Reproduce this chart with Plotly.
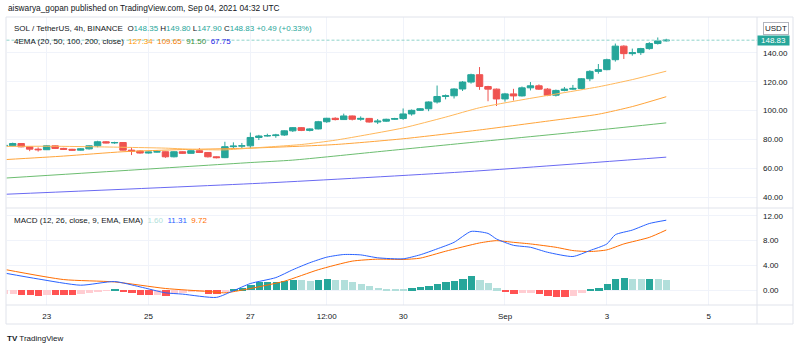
import plotly.graph_objects as go
import pandas as pd

W, H = 800, 348

# ---------------- data ----------------
start = pd.Timestamp("2021-08-22 04:00")   # first (partly hidden) 4h candle

opens = [75.4, 75.7, 77.2, 74.9, 73.3, 72.9, 75.6, 73.8, 73.2, 72.6,
         73.5, 75.6, 78.4, 77.6, 77.9, 72.6, 72.0, 70.6, 71.3, 71.5,
         68.0, 71.5, 70.4, 72.2, 71.0, 68.0, 67.4, 75.0, 75.4, 75.6,
         81.4, 82.4, 82.7, 83.1, 86.0, 88.2, 86.3, 87.3, 92.3, 94.7,
         93.8, 96.3, 94.0, 94.6, 92.1, 92.7, 94.0, 94.5, 97.7, 100.2,
         101.3, 106.0, 109.8, 110.3, 115.0, 119.8, 124.9, 116.7, 114.9, 108.1,
         111.6, 110.2, 115.8, 117.2, 114.9, 110.7, 114.0, 114.9, 115.4, 122.1,
         127.2, 128.4, 135.3, 144.7, 139.5, 140.2, 143.0, 146.5, 148.35]
highs = [76.2, 77.8, 77.5, 75.1, 74.5, 75.9, 75.9, 74.2, 73.5, 73.9,
         76.0, 79.1, 78.9, 78.4, 78.1, 74.5, 72.4, 71.6, 72.6, 71.7,
         71.8, 71.8, 72.4, 74.0, 71.3, 68.3, 78.4, 78.0, 77.6, 84.8,
         83.2, 84.0, 83.9, 86.4, 88.6, 88.6, 87.7, 92.9, 95.0, 95.4,
         97.9, 96.6, 96.0, 94.9, 94.2, 94.4, 95.0, 101.5, 100.8, 101.8,
         106.4, 117.4, 111.2, 115.5, 120.5, 125.6, 130.2, 117.2, 115.3, 112.3,
         115.1, 116.7, 119.8, 118.2, 115.6, 114.6, 116.4, 117.8, 122.6, 128.0,
         132.3, 136.0, 146.5, 145.3, 143.0, 143.5, 147.5, 150.7, 149.80]
lows = [75.2, 75.3, 74.6, 71.9, 71.6, 72.7, 73.5, 72.8, 72.3, 72.4,
        73.0, 74.6, 77.3, 77.0, 72.4, 69.2, 70.2, 70.3, 71.0, 67.3,
        67.6, 70.1, 70.2, 70.6, 67.5, 66.9, 67.1, 73.6, 73.8, 73.9,
        79.6, 82.0, 81.2, 82.5, 85.2, 85.8, 85.6, 87.0, 91.5, 93.2,
        93.5, 93.2, 93.0, 91.7, 90.7, 92.2, 93.6, 93.6, 96.5, 99.8,
        99.6, 104.9, 107.8, 108.4, 113.6, 118.7, 114.4, 106.5, 103.2, 106.2,
        107.0, 109.8, 114.0, 114.3, 110.0, 109.8, 113.4, 114.4, 114.8, 120.4,
        125.6, 128.0, 134.0, 135.8, 138.1, 138.6, 142.2, 145.8, 147.90]
closes = [75.9, 77.2, 74.9, 73.3, 72.9, 75.6, 73.8, 73.2, 72.6, 73.5,
          75.6, 78.4, 77.6, 77.9, 72.6, 72.0, 70.6, 71.3, 71.5, 68.0,
          71.5, 70.4, 72.2, 71.0, 68.0, 67.4, 75.0, 75.4, 75.6, 81.4,
          82.4, 82.7, 83.1, 86.0, 88.2, 86.3, 87.3, 92.3, 94.7, 93.8,
          96.3, 94.0, 94.6, 92.1, 92.7, 94.0, 94.5, 97.7, 100.2, 101.3,
          106.0, 109.8, 110.3, 115.0, 119.8, 124.9, 116.7, 114.9, 108.1, 111.6,
          110.2, 115.8, 117.2, 114.9, 110.7, 114.0, 114.9, 115.4, 122.1, 127.2,
          128.4, 135.3, 144.7, 139.5, 140.2, 143.0, 146.5, 148.35, 148.83]

# EMA lines: (candle number, value)
ema20_idx = [1, 7, 15, 20, 24, 27, 30, 36, 40, 43, 48, 53, 57, 62, 66, 71, 75, 79]
ema20_val = [75.2, 75.3, 74.6, 74.0, 73.0, 72.8, 74.0, 76.5, 79.5, 82.5, 88.0, 95.5,
             102.0, 107.5, 111.5, 116.5, 121.5, 127.34]
ema50_idx = [1, 8, 15, 22, 30, 40, 48, 57, 66, 71, 75, 79]
ema50_val = [66.0, 68.5, 71.5, 73.0, 74.0, 76.5, 80.5, 86.6, 93.5, 97.5, 102.8, 109.65]
ema100_idx = [1, 15, 30, 35, 45, 57, 71, 79]
ema100_val = [53.2, 58.4, 64.0, 65.7, 71.5, 78.5, 86.6, 91.50]
ema200_idx = [1, 32, 55, 79]
ema200_val = [42.0, 49.9, 57.5, 67.75]

# MACD histogram, one bar per candle
hist = [-0.62, -0.60, -0.72, -0.78, -0.95, -0.75, -0.78, -0.80, -0.82, -0.64,
        -0.53, -0.27, -0.10, 0.05, -0.32, -0.53, -0.75, -0.85, -0.75, -0.96,
        -0.64, -0.43, -0.32, -0.21, -0.64, -0.66, -0.21, 0.21, 0.32, 0.80,
        1.28, 1.33, 1.39, 1.49, 1.65, 1.64, 1.44, 1.65, 1.76, 1.60,
        1.58, 1.33, 1.07, 0.69, 0.37, 0.21, 0.16, 0.16, 0.32, 0.48,
        0.75, 1.07, 1.28, 1.49, 1.87, 2.24, 1.71, 1.12, 0.32, -0.27,
        -0.69, -0.53, -0.48, -0.69, -1.01, -1.07, -1.12, -0.91, -0.53, 0.05,
        0.32, 0.96, 1.87, 1.92, 1.76, 1.75, 1.78, 1.76, 1.60]

macd_idx = [1, 5, 10, 14, 17, 20, 22, 26, 28, 30, 33, 35, 37, 39, 41, 43, 45, 48,
            50, 52, 54, 56, 58, 59, 61, 63, 65, 68, 70, 72, 73, 75, 77, 79]
macd_val = [2.77, 1.81, 0.80, 1.39, 0.53, -0.43, -0.64, -1.17, -0.10, 1.07, 2.03, 3.30,
            4.43, 5.33, 5.76, 5.70, 5.23, 5.07, 5.71, 6.67, 7.73, 9.49, 9.17, 8.27,
            7.25, 6.93, 6.13, 5.44, 6.40, 7.47, 8.96, 9.71, 10.77, 11.31]
signal_idx = [1, 8, 14, 20, 25, 27, 29, 34, 38, 42, 45, 48, 50, 53, 57, 59, 61, 63,
              66, 68, 70, 72, 74, 77, 79]
signal_val = [3.36, 1.71, 1.33, 0.27, -0.21, -0.43, 0.00, 1.44, 3.30, 4.69, 5.01, 4.96,
              5.17, 6.29, 7.63, 8.00, 7.73, 7.47, 6.93, 6.40, 6.24, 6.51, 7.47, 8.53, 9.72]

price_ticks = [40, 60, 80, 100, 120, 140]
macd_ticks = [0, 4, 8, 12]
date_tick_times = ["2021-08-23", "2021-08-25", "2021-08-27", "2021-08-28 12:00",
                   "2021-08-30", "2021-09-01", "2021-09-03", "2021-09-05"]
date_tick_text = ["23", "25", "27", "12:00", "30", "Sep", "3", "5"]

# ---------------- helpers ----------------
step = pd.Timedelta(hours=4)
times = [start + step * i for i in range(len(closes))]


def t_of(idx_list):
    return [times[i - 1] for i in idx_list]


def px_x(x):
    return x / W


def px_y(y):
    return 1 - y / H


UP, DOWN = "#26a69a", "#ef5350"
TXT = "#131722"
GRID = "#f0f3fa"
BORDER = "#e0e3eb"
FONT = "Liberation Sans"

# time range of the plot area (left edge ~ x 6.5px, right edge ~ x 757px)
spacing_px = 8.488
c1_px = 4.2
x_left = start + step * ((6.5 - c1_px) / spacing_px)
x_right = start + step * ((757 - c1_px) / spacing_px)

# histogram colours (TradingView scheme)
hist_colors = []
for i, v in enumerate(hist):
    rising = True if i == 0 else v > hist[i - 1]
    if v >= 0:
        hist_colors.append("#26a69a" if rising else "#b2dfdb")
    else:
        hist_colors.append("#ffcdd2" if rising else "#ff5252")

fig = go.Figure()

fig.add_trace(go.Candlestick(
    x=times, open=opens, high=highs, low=lows, close=closes,
    increasing=dict(line=dict(color=UP, width=1), fillcolor=UP),
    decreasing=dict(line=dict(color=DOWN, width=1), fillcolor=DOWN),
    whiskerwidth=0, xaxis="x", yaxis="y", showlegend=False, hoverinfo="skip"))

for idx, val, col in [(ema200_idx, ema200_val, "#6a6af2"),
                      (ema100_idx, ema100_val, "#6cbd70"),
                      (ema50_idx, ema50_val, "#ffa43a"),
                      (ema20_idx, ema20_val, "#ffb75a")]:
    fig.add_trace(go.Scatter(x=t_of(idx), y=val, mode="lines",
                             line=dict(color=col, width=1, shape="spline", smoothing=0.6),
                             xaxis="x", yaxis="y", showlegend=False, hoverinfo="skip"))

fig.add_trace(go.Bar(x=times, y=hist, marker=dict(color=hist_colors, line=dict(width=0)),
                     width=4 * 3600 * 1000 * 0.86, xaxis="x2", yaxis="y2",
                     showlegend=False, hoverinfo="skip"))
fig.add_trace(go.Scatter(x=t_of(signal_idx), y=signal_val, mode="lines",
                         line=dict(color="#ff6d00", width=1, shape="spline", smoothing=0.6),
                         xaxis="x2", yaxis="y2", showlegend=False, hoverinfo="skip"))
fig.add_trace(go.Scatter(x=t_of(macd_idx), y=macd_val, mode="lines",
                         line=dict(color="#2962ff", width=1, shape="spline", smoothing=0.6),
                         xaxis="x2", yaxis="y2", showlegend=False, hoverinfo="skip"))

tickfont = dict(family=FONT, size=8, color=TXT)
xcommon = dict(type="date", range=[x_left, x_right], domain=[px_x(6.5), px_x(757)],
               tickvals=date_tick_times, ticktext=date_tick_text,
               showgrid=True, gridcolor=GRID, gridwidth=1, zeroline=False,
               showline=False, ticks="", tickfont=tickfont, fixedrange=True)

fig.update_layout(
    width=W, height=H, margin=dict(l=0, r=0, t=0, b=0),
    paper_bgcolor="white", plot_bgcolor="white",
    xaxis=dict(**xcommon, anchor="y", showticklabels=False, rangeslider=dict(visible=False)),
    xaxis2=dict(**xcommon, anchor="y2", matches="x", showticklabels=True,
                ticklabelstandoff=5),
    yaxis=dict(domain=[px_y(208), px_y(17)], range=[32.5, 164.9], side="right",
               anchor="x", tickvals=price_ticks, tickformat=".2f", showgrid=True,
               gridcolor=GRID, zeroline=False, ticks="", tickfont=tickfont,
               ticklabelstandoff=5, fixedrange=True),
    yaxis2=dict(domain=[px_y(305), px_y(208)], range=[-2.4, 13.28], side="right",
                anchor="x2", tickvals=macd_ticks, tickformat=".2f", showgrid=True,
                gridcolor=GRID, zeroline=False, ticks="", tickfont=tickfont,
                ticklabelstandoff=5, fixedrange=True),
    bargap=0, boxgap=0.24, boxgroupgap=0, showlegend=False,
)

# borders / separators
shapes = [
    dict(type="rect", xref="paper", yref="paper", x0=px_x(6), x1=px_x(793),
         y0=px_y(324), y1=px_y(17), line=dict(color=BORDER, width=1)),
    dict(type="line", xref="paper", yref="paper", x0=px_x(6), x1=px_x(793),
         y0=px_y(208), y1=px_y(208), line=dict(color=BORDER, width=1)),
    dict(type="line", xref="paper", yref="paper", x0=px_x(6), x1=px_x(793),
         y0=px_y(305), y1=px_y(305), line=dict(color=BORDER, width=1)),
    dict(type="line", xref="paper", yref="paper", x0=px_x(757), x1=px_x(757),
         y0=px_y(324), y1=px_y(17), line=dict(color=BORDER, width=1)),
    dict(type="line", xref="x domain", yref="y", x0=0, x1=1,
         y0=closes[-1], y1=closes[-1], line=dict(color="#8fd3ca", width=1, dash="3px,2px")),
]
fig.update_layout(shapes=shapes)

teal = UP
annots = [
    dict(xref="paper", yref="paper", x=px_x(6), y=px_y(8), xanchor="left", yanchor="middle",
         text="aiswarya_gopan published on TradingView.com, Sep 04, 2021 04:32 UTC",
         showarrow=False, font=dict(family=FONT, size=8.3, color=TXT)),
    dict(xref="paper", yref="paper", x=px_x(12), y=px_y(28), xanchor="left", yanchor="middle",
         text=("SOL / TetherUS, 4h, BINANCE&nbsp;&nbsp;"
               f"O<span style='color:{teal}'>148.35</span> "
               f"H<span style='color:{teal}'>149.80</span> "
               f"L<span style='color:{teal}'>147.90</span> "
               f"C<span style='color:{teal}'>148.83</span> "
               f"<span style='color:{teal}'>+0.49 (+0.33%)</span>"),
         showarrow=False, font=dict(family=FONT, size=8, color=TXT)),
    dict(xref="paper", yref="paper", x=px_x(12), y=px_y(41), xanchor="left", yanchor="middle",
         text=("4EMA (20, 50, 100, 200, close)&nbsp;&nbsp;"
               "<span style='color:#ff9800'>127.34</span>&nbsp;&nbsp;"
               "<span style='color:#f57c00'>109.65</span>&nbsp;&nbsp;"
               "<span style='color:#388e3c'>91.50</span>&nbsp;&nbsp;"
               "<span style='color:#2424e8'>67.75</span>"),
         showarrow=False, font=dict(family=FONT, size=8, color=TXT)),
    dict(xref="paper", yref="paper", x=px_x(12), y=px_y(220), xanchor="left", yanchor="middle",
         text=("MACD (12, 26, close, 9, EMA, EMA)&nbsp;&nbsp;"
               "<span style='color:#b2dfdb'>1.60</span>&nbsp;&nbsp;"
               "<span style='color:#2962ff'>11.31</span>&nbsp;&nbsp;"
               "<span style='color:#ff6d00'>9.72</span>"),
         showarrow=False, font=dict(family=FONT, size=8, color=TXT)),
    dict(xref="paper", yref="paper", x=px_x(763), y=px_y(28), xanchor="left", yanchor="middle",
         text="USDT", showarrow=False, bgcolor="white", bordercolor="#b2b5be",
         borderwidth=1, borderpad=1, font=dict(family=FONT, size=8, color=TXT)),
    dict(xref="paper", yref="y", x=px_x(757), y=closes[-1], xanchor="left", yanchor="middle",
         text="148.83", showarrow=False, bgcolor=teal, width=31, height=9, borderpad=0,
         font=dict(family=FONT, size=8, color="white")),
    dict(xref="paper", yref="paper", x=px_x(5), y=px_y(338), xanchor="left", yanchor="middle",
         text="<b>TV</b> TradingView", showarrow=False,
         font=dict(family=FONT, size=8, color=TXT)),
]
fig.update_layout(annotations=annots)

fig.write_html("out.html")
